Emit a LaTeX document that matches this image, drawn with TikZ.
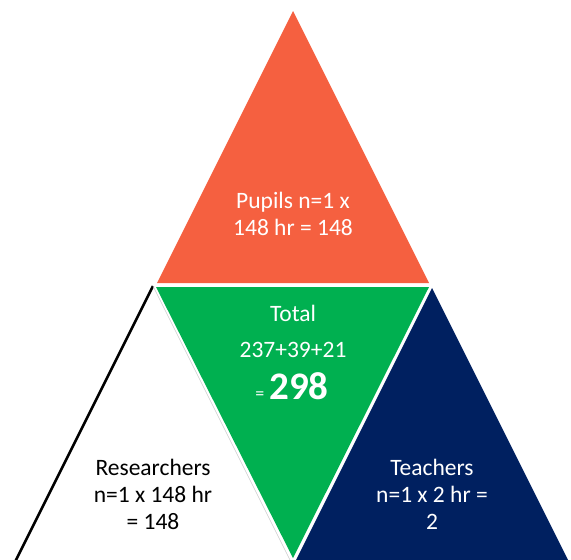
\documentclass[tikz,border=0pt]{standalone}
\usepackage{fontspec}
\setmainfont{Carlito}
\usepackage{tikz}
\definecolor{pupilorange}{RGB}{245, 96, 64}
\definecolor{totalgreen}{RGB}{0, 176, 80}
\definecolor{teachnavy}{RGB}{0, 32, 96}
\tikzset{
  lbl/.style={align=center, font=\fontsize{23.5}{27}\selectfont},
}

\begin{document}
\begin{tikzpicture}[x=1pt, y=-1pt]
    \useasboundingbox (0,0) rectangle (571,560);
    % triangles
    \fill[pupilorange] (293,11) -- (429,283) -- (157,283) -- cycle;
    \fill[totalgreen] (156,287) -- (429,287) -- (293,558) -- cycle;
    \fill[white] (153,286) -- (290,560) -- (15,560) -- cycle;
    \draw[black, line width=2.5pt] (153,286) -- (15,562);
    \draw[gray!40, line width=0.5pt] (153,286) -- (291,562);
    \fill[teachnavy] (432,288) -- (568,560) -- (296,560) -- cycle;
    % labels
    \node (pupils) at (293,214) [lbl, text=white] {Pupils n=1 x\\148 hr = 148};
    \node (total) at (293,313) [lbl, text=white] {Total};
    \node (sum) at (293,350) [lbl, text=white] {237+39+21};
    \node (result) at (292,386) [text=white, anchor=center] {{\fontsize{18}{18}\selectfont =}\hspace{5pt}{\fontsize{39}{39}\selectfont\bfseries 298}};
    \node (research) at (153,494) [lbl, text=black] {Researchers\\n=1 x 148 hr\\= 148};
    \node (teachers) at (432,494) [lbl, text=white] {Teachers\\n=1 x 2 hr =\\2};
  \end{tikzpicture}
\end{document}
